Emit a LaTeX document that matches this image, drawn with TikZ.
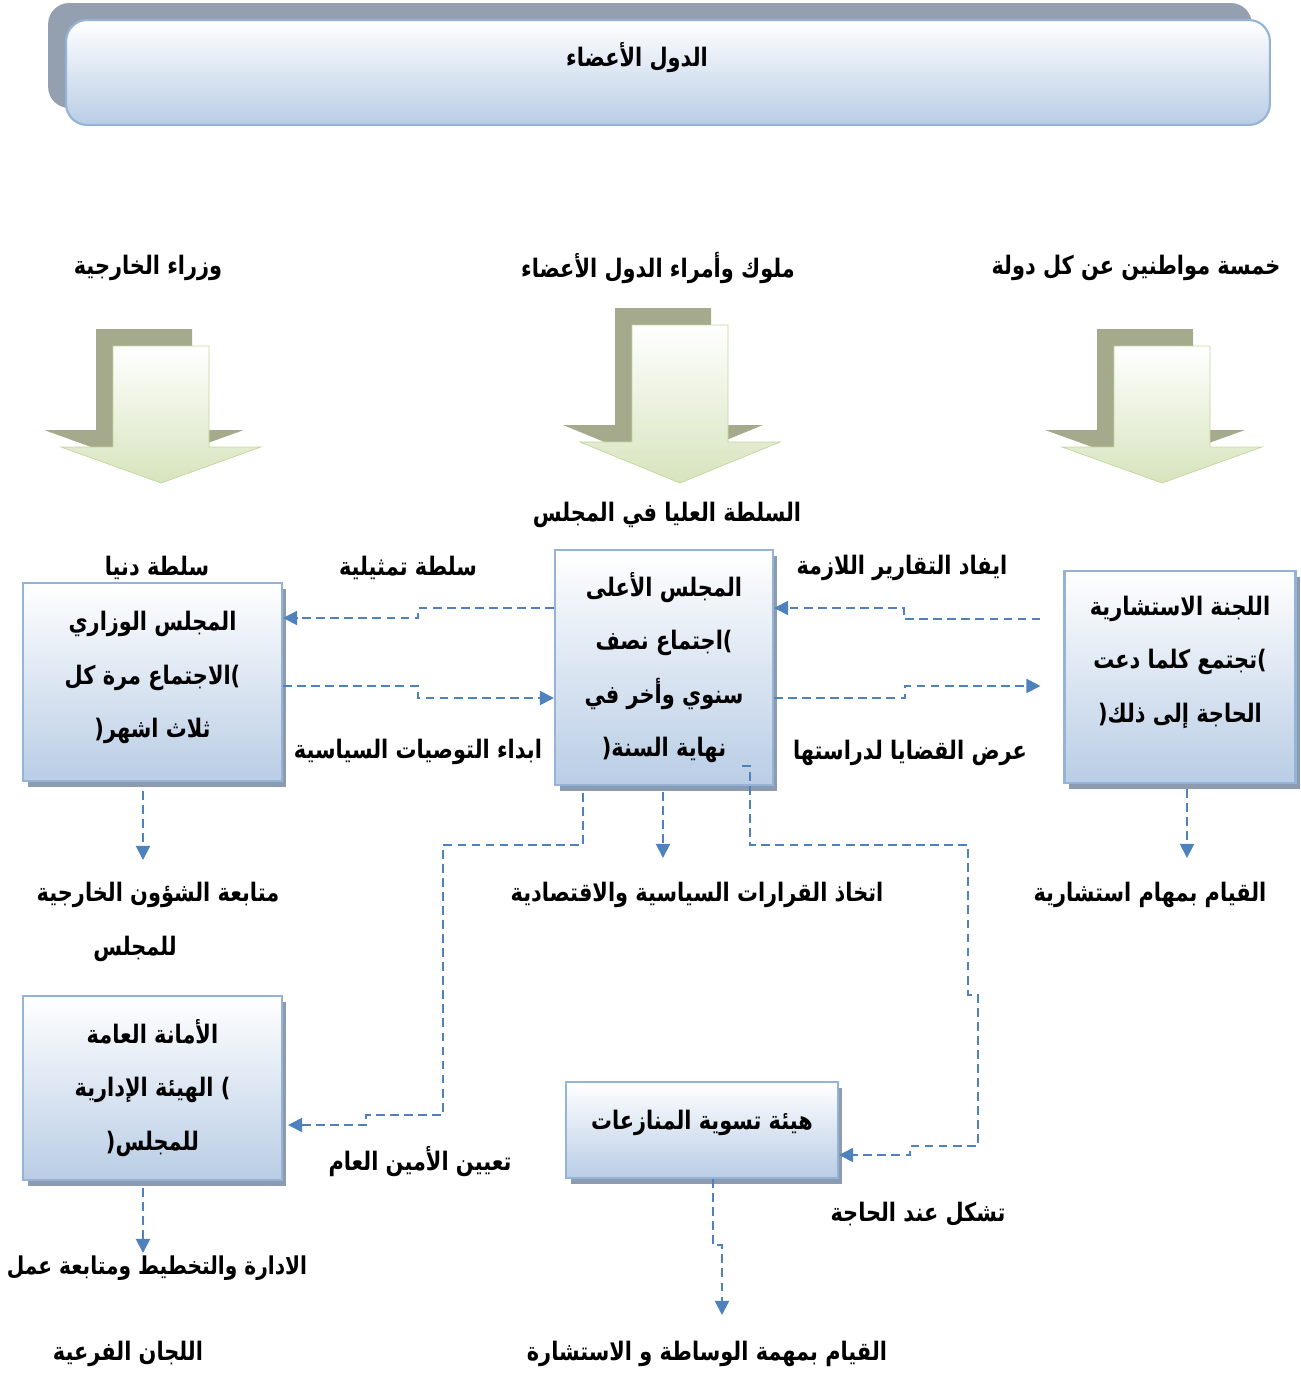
\documentclass[tikz,border=0pt]{standalone}
\usepackage{fontspec}
\newfontfamily\arabicfont[Script=Arabic,FakeStretch=0.82]{DejaVu Sans}
\TeXXeTstate=1
\usetikzlibrary{arrows.meta,shadows}

\definecolor{bxline}{RGB}{149,179,215}
\definecolor{bxfill}{RGB}{185,205,229}
\definecolor{bxshd}{RGB}{140,155,175}
\definecolor{bnshd}{RGB}{148,160,176}
\definecolor{cnline}{RGB}{79,129,189}
\definecolor{argreen}{RGB}{215,228,189}
\definecolor{arline}{RGB}{195,214,155}
\definecolor{arshd}{RGB}{165,170,140}

\newcommand{\ar}[1]{\beginR #1\endR}
% block arrow: centre x, top y, head base y, tip y
\newcommand{\dnarrow}[4]{%
 \fill[arshd,shift={(-17,-17)}] (#1-48,#2) -- (#1+48,#2) -- (#1+48,#3) -- (#1+100,#3)
  -- (#1,#4) -- (#1-100,#3) -- (#1-48,#3) -- cycle;
 \draw[arline,top color=white,bottom color=argreen] (#1-48,#2) -- (#1+48,#2) -- (#1+48,#3)
  -- (#1+100,#3) -- (#1,#4) -- (#1-100,#3) -- (#1-48,#3) -- cycle;}

\begin{document}
\begin{tikzpicture}[x=0.02cm,y=-0.02cm,>={Triangle[length=8pt,width=8pt]},
 box/.style={draw=bxline,line width=1.2pt,top color=white,bottom color=bxfill,
  drop shadow={shadow xshift=0.09cm,shadow yshift=-0.12cm,fill=bxshd,opacity=1},
  align=center,inner sep=0pt,font=\arabicfont\bfseries\fontsize{14.5}{30.5}\selectfont},
 lbl/.style={inner sep=0pt,font=\arabicfont\bfseries\fontsize{14.5}{16}\selectfont},
 conn/.style={draw=cnline,line width=1.1pt,dash pattern=on 5pt off 3pt,->}]
\useasboundingbox (0,0) rectangle (1301,1373);

% banner
\node[draw=bxline,line width=1.2pt,rounded corners=12pt,top color=white,bottom color=bxfill,
 minimum width=24.08cm,minimum height=2.1cm,text depth=0.72cm,
 drop shadow={shadow xshift=-0.36cm,shadow yshift=0.34cm,fill=bnshd,opacity=1},
 font=\arabicfont\bfseries\fontsize{14.5}{16}\selectfont] (banner) at (668,72.5)
 {\ar{الدول الأعضاء}\hspace*{1.24cm}};

% members
\node[lbl] (wuzara) at (148,268) {\ar{وزراء الخارجية}};
\node[lbl] (muluk) at (658,268) {\ar{ملوك وأمراء الدول الأعضاء}};
\node[lbl] (khamsa) at (1136,268) {\ar{خمسة مواطنين عن كل دولة}};

\dnarrow{161}{346}{447}{483}
\dnarrow{680}{325}{442}{483}
\dnarrow{1162}{346}{447}{483}

\node[lbl] (sulta) at (667,515) {\ar{السلطة العليا في المجلس}};

% councils
\node[box,minimum width=5.18cm,minimum height=3.96cm,text depth=0.3cm] (wazir) at (152.5,682)
 {\ar{المجلس الوزاري}\\\ar{الاجتماع مرة كل})\\(\ar{ثلاث اشهر}};
\node[box,minimum width=4.36cm,minimum height=4.7cm] (aala) at (664,667.5)
 {\ar{المجلس الأعلى}\\\ar{اجتماع نصف})\\\ar{سنوي وأخر في}\\(\ar{نهاية السنة}};
\node[box,minimum width=4.62cm,minimum height=4.24cm,text depth=0.72cm] (istishari) at (1180,677)
 {\ar{اللجنة الاستشارية}\\\ar{تجتمع كلما دعت})\\(\ar{الحاجة إلى ذلك}};
\node[box,minimum width=5.18cm,minimum height=3.68cm] (amana) at (152.5,1088)
 {\ar{الأمانة العامة}\\\ar{الهيئة الإدارية} )\\(\ar{للمجلس}};
\node[box,minimum width=5.44cm,minimum height=1.92cm,text depth=0.4cm] (tasweya) at (702,1130)
 {\ar{هيئة تسوية المنازعات}};

% labels
\node[lbl] (dunya) at (157,568) {\ar{سلطة دنيا}};
\node[lbl] (tamthil) at (408,568) {\ar{سلطة تمثيلية}};
\node[lbl] (ifad) at (902,568) {\ar{ايفاد التقارير اللازمة}};
\node[lbl] (ibda) at (418,752) {\ar{ابداء التوصيات السياسية}};
\node[lbl] (ard) at (910,753) {\ar{عرض القضايا لدراستها}};
\node[lbl] (mutaba) at (158,895) {\ar{متابعة الشؤون الخارجية}};
\node[lbl] (majlis) at (135,949) {\ar{للمجلس}};
\node[lbl] (ittikhaz) at (697,895) {\ar{اتخاذ القرارات السياسية والاقتصادية}};
\node[lbl] (maham) at (1150,895) {\ar{القيام بمهام استشارية}};
\node[lbl] (tayin) at (420,1162) {\ar{تعيين الأمين العام}};
\node[lbl] (tashkil) at (918,1214) {\ar{تشكل عند الحاجة}};
\node[lbl,font=\arabicfont\bfseries\fontsize{14}{16}\selectfont] (idara) at (157,1268)
 {\ar{الادارة والتخطيط ومتابعة عمل}};
\node[lbl] (lijan) at (128,1354) {\ar{اللجان الفرعية}};
\node[lbl] (wasata) at (707,1354) {\ar{القيام بمهمة الوساطة و الاستشارة}};

% connectors
\coordinate (tipA) at (143,860);
\coordinate (tipB) at (663,858);
\coordinate (tipC) at (1187,858);
\coordinate (tipD) at (722,1315);
\coordinate (tipE) at (143,1253);
\coordinate (start9) at (742,766);

\draw[conn] (aala.west |- 0,608) -- (418,608) -- (418,618) -- (wazir.east |- 0,618);
\draw[conn] (wazir.east |- 0,686) -- (418,686) -- (418,698) -- (aala.west |- 0,698);
\draw[conn,shorten <=0.46cm] (istishari.west |- 0,619) -- (904,619) -- (904,608) -- (aala.east |- 0,608);
\draw[conn,shorten >=0.46cm] (aala.east |- 0,698) -- (905,698) -- (905,686) -- (istishari.west |- 0,686);
\draw[conn,shorten <=0.18cm] (wazir.south -| tipA) -- (tipA);
\draw[conn,shorten <=0.12cm] (aala.south -| tipB) -- (tipB);
\draw[conn,shorten <=0.1cm] (istishari.south -| tipC) -- (tipC);
\draw[conn,shorten <=0.14cm,shorten >=0.1cm] (aala.south -| 583,0) -- (583,845) -- (443,845)
 -- (443,1115) -- (366,1115) -- (366,1125) -- (amana.east |- 0,1125);
\draw[conn] (start9) -- (750,766) -- (750,845) -- (968,845) -- (968,995) -- (978,995)
 -- (978,1146) -- (910,1146) -- (910,1155) -- (tasweya.east |- 0,1155);
\draw[conn] (tasweya.south -| 713,0) -- (713,1245) -- (722,1245) -- (tipD);
\draw[conn,shorten <=0.14cm] (amana.south -| tipE) -- (tipE);
\end{tikzpicture}
\end{document}
